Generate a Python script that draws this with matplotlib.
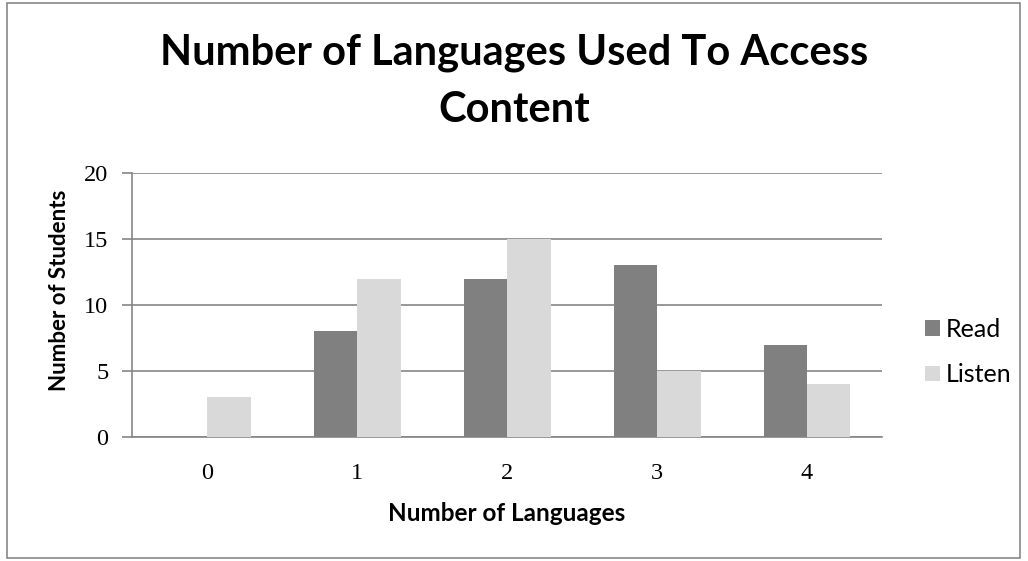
import matplotlib.pyplot as plt
import numpy as np
from matplotlib.patches import Rectangle

plt.rcParams['font.family'] = ['Lato', 'DejaVu Sans']

categories = ["0", "1", "2", "3", "4"]
read = [0, 8, 12, 13, 7]
listen = [3, 12, 15, 5, 4]

W, H = 1028, 561
fig = plt.figure(figsize=(W / 100, H / 100), dpi=100)

# outer chart border
fig.patches.append(Rectangle((7 / W, 3 / H), 1013 / W, 555 / H, transform=fig.transFigure,
                             fill=False, edgecolor="#888888", linewidth=1.2))

ax = fig.add_axes([132 / W, 124 / H, 750 / W, 264 / H])

x = np.arange(len(categories))
bw = 0.29
ax.bar(x - bw / 2, read, bw, color="#808080", label="Read", zorder=3)
ax.bar(x + bw / 2, listen, bw, color="#d9d9d9", label="Listen", zorder=3)

ax.set_xlim(-0.5, 4.5)
ax.set_ylim(0, 20)
ax.set_yticks([0, 5, 10, 15, 20])
ax.set_xticks(x)
ax.set_xticklabels(categories)
ax.yaxis.grid(True, color="#868686", linewidth=1.2, zorder=0)

for s in ["top", "right"]:
    ax.spines[s].set_visible(False)
for s in ["left", "bottom"]:
    ax.spines[s].set_color("#868686")
    ax.spines[s].set_linewidth(1.2)

serif = ['Liberation Serif', 'DejaVu Serif']
ax.tick_params(axis="x", length=0, pad=19)
ax.tick_params(axis="y", length=7, color="#868686", width=1.2, pad=10)
for lab in ax.get_xticklabels() + ax.get_yticklabels():
    lab.set_family(serif)
    lab.set_fontsize(17.5)

ax.set_xlabel("Number of Languages", fontsize=17.5, fontweight="bold")
ax.set_ylabel("Number of Students", fontsize=16, fontweight="bold")
ax.xaxis.set_label_coords(0.5, -(502 - 437) / 264)
ax.yaxis.set_label_coords((70 - 132) / 750, (437 - 290) / 264)

# title, two lines as in the original
fig.text(0.5, 1 - 65 / H, "Number of Languages Used To Access", ha="center", va="baseline",
         fontsize=30, fontweight="bold")
fig.text(0.5, 1 - 122 / H, "Content", ha="center", va="baseline",
         fontsize=30, fontweight="bold")

ax.legend(loc="center left", bbox_to_anchor=(902 / W, 1 - 352 / H), bbox_transform=fig.transFigure,
          frameon=False, fontsize=18, handlelength=0.6, handleheight=0.6,
          labelspacing=0.9, handletextpad=0.25, borderpad=0.4)

fig.savefig("out.png", dpi=100)
